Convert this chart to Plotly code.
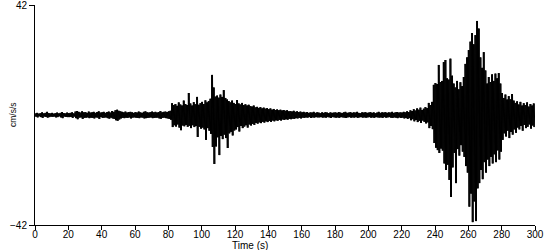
import plotly.graph_objects as go

# Envelope of the record: peak positive and negative
# acceleration (cm/s/s) in each one-second interval, t = 0 .. 299 s
seconds = list(range(300))

upper = [
    0.6,0.8,0.5,0.7,1.0,0.6,0.8,1.2,0.7,0.6,
    0.8,0.5,0.7,0.9,0.6,0.8,1.1,0.7,0.6,0.9,
    0.7,0.8,1.0,0.6,1.3,1.5,1.2,0.9,1.4,1.0,
    1.1,0.8,1.3,0.9,1.0,1.2,0.8,1.1,1.4,0.9,
    1.0,1.2,0.8,1.1,1.3,0.9,1.5,1.2,1.8,2.0,
    1.6,1.4,1.2,1.0,1.3,0.9,1.1,1.2,1.0,0.8,
    1.1,0.9,1.3,1.0,0.8,1.2,1.4,1.0,0.9,1.1,
    1.3,1.0,1.2,0.9,1.1,1.5,1.0,1.2,1.3,1.1,
    1.4,1.6,4.5,3.8,4.2,3.5,4.8,4.0,3.6,5.5,
    4.2,3.8,8.4,4.4,3.6,4.9,4.1,6.9,3.9,4.5,
    5.0,4.2,5.6,4.8,5.3,6.2,15.3,10.5,7.0,7.4,
    6.6,7.8,6.9,9.5,6.5,5.9,5.3,4.8,5.5,4.6,
    4.2,5.7,4.4,4.0,4.6,3.8,4.1,3.6,3.9,3.4,
    3.2,3.6,2.9,3.1,2.7,3.0,2.5,2.8,2.4,2.6,
    2.2,2.5,2.0,2.3,1.9,2.1,1.8,2.0,1.7,1.9,
    1.6,1.8,1.4,1.5,1.3,1.6,1.2,1.4,1.1,1.3,
    1.0,1.2,0.9,1.1,0.8,1.0,0.9,1.2,0.8,1.0,
    0.9,0.7,1.0,0.8,1.1,0.9,0.7,1.0,0.8,0.9,
    1.0,0.8,1.1,0.9,0.7,1.0,1.2,0.8,0.9,1.1,
    0.8,1.0,0.9,1.2,0.8,0.7,1.0,0.9,1.1,0.8,
    0.9,1.1,0.8,1.0,0.7,0.9,1.2,0.8,1.0,0.9,
    1.1,0.8,1.0,0.9,1.2,0.8,1.0,1.1,0.9,1.0,
    0.9,1.2,1.0,1.4,1.1,1.8,1.5,2.2,1.7,2.5,
    2.0,2.8,1.9,2.4,3.0,2.6,4.6,3.8,5.0,11.5,
    12.2,11.8,19.1,12.6,13.0,20.2,21.0,14.0,13.5,21.5,
    15.0,12.0,10.5,13.0,9.8,12.5,11.0,14.5,19.5,22.0,
    24.8,28.0,31.3,27.0,30.5,35.9,33.0,22.0,18.0,24.0,
    17.0,12.0,14.5,12.6,15.5,13.0,15.8,14.0,16.0,12.0,
    8.4,6.5,7.8,5.9,7.2,6.0,8.0,5.5,4.6,5.2,
    4.0,5.0,3.6,4.5,3.8,4.8,3.2,4.2,3.6,4.4,
]

lower = [
    -0.6,-0.9,-0.5,-0.8,-1.1,-0.6,-0.7,-1.0,-0.8,-0.6,
    -0.7,-0.6,-0.9,-0.8,-0.5,-0.9,-1.2,-0.6,-0.7,-0.8,
    -0.8,-0.7,-1.1,-0.6,-1.2,-1.6,-1.0,-0.9,-1.5,-1.1,
    -1.0,-0.9,-1.2,-1.0,-1.1,-1.3,-0.9,-1.0,-1.5,-0.8,
    -1.1,-1.0,-0.9,-1.2,-1.4,-1.0,-1.3,-1.5,-2.0,-2.2,
    -1.7,-1.3,-1.1,-1.2,-1.0,-1.1,-0.9,-1.3,-1.0,-0.9,
    -1.0,-1.1,-1.2,-0.9,-1.0,-1.3,-1.2,-1.1,-1.0,-0.9,
    -1.2,-1.1,-1.0,-1.0,-1.3,-1.4,-1.1,-1.0,-1.2,-1.3,
    -1.5,-1.8,-4.6,-3.9,-4.4,-3.6,-4.8,-5.8,-4.0,-4.3,
    -3.8,-4.5,-4.1,-5.0,-3.9,-4.6,-4.2,-8.4,-4.5,-5.2,
    -4.8,-5.5,-9.5,-5.0,-6.0,-7.2,-12.2,-18.7,-12.0,-8.5,
    -15.3,-8.0,-9.2,-7.5,-8.8,-12.6,-7.0,-6.4,-7.8,-5.9,
    -5.5,-4.6,-6.3,-4.2,-5.0,-4.4,-3.9,-4.8,-3.6,-4.0,
    -3.4,-3.8,-3.0,-3.3,-2.8,-3.1,-2.6,-2.9,-2.4,-2.7,
    -2.3,-2.6,-2.1,-2.4,-2.0,-2.2,-1.9,-2.1,-1.7,-1.9,
    -1.6,-1.8,-1.5,-1.6,-1.4,-1.5,-1.2,-1.3,-1.1,-1.3,
    -1.0,-1.1,-0.9,-1.0,-0.8,-1.1,-0.9,-1.0,-0.8,-0.9,
    -0.9,-0.8,-1.0,-0.9,-1.0,-0.8,-0.9,-1.1,-0.8,-0.9,
    -1.0,-0.9,-1.1,-0.8,-0.9,-1.0,-1.1,-0.9,-0.8,-1.0,
    -0.9,-1.0,-0.8,-1.1,-0.9,-0.8,-1.0,-0.9,-1.0,-0.9,
    -0.8,-1.0,-0.9,-1.1,-0.8,-0.9,-1.0,-0.9,-1.1,-0.8,
    -1.0,-0.9,-0.8,-1.0,-1.1,-0.9,-1.0,-1.2,-0.9,-1.1,
    -1.0,-1.3,-1.1,-1.5,-1.2,-2.0,-1.6,-2.4,-1.9,-2.7,
    -2.2,-3.0,-2.1,-2.6,-3.2,-2.8,-5.0,-4.2,-5.4,-10.7,
    -12.5,-13.4,-14.5,-12.8,-13.6,-18.5,-21.0,-19.0,-24.8,-31.3,
    -20.0,-14.5,-26.0,-13.0,-15.5,-11.5,-14.0,-16.0,-19.5,-22.0,
    -35.0,-30.0,-40.9,-33.0,-40.5,-28.0,-26.0,-21.0,-24.5,-18.0,
    -22.0,-17.0,-19.5,-16.0,-18.5,-15.0,-18.0,-13.5,-17.0,-14.0,
    -9.5,-7.0,-8.2,-6.0,-8.8,-6.5,-7.5,-5.5,-6.8,-4.8,
    -5.5,-4.2,-6.0,-3.8,-5.0,-4.5,-3.6,-5.2,-4.0,-4.6,
]

x_ticks = list(range(0, 301, 20))
y_ticks = [-42, 42]
x_title = "Time (s)"
y_title = "cm/s/s"

# the trace swings between the positive and negative peak of each second;
# several swings per second keep the dense record solid as in the picture
SWINGS = 4
xs, ys = [], []
for t, u, l in zip(seconds, upper, lower):
    for k in range(SWINGS):
        xs += [t + k / SWINGS, t + (k + 0.5) / SWINGS]
        ys += [u, l]

fig = go.Figure(go.Scatter(x=xs, y=ys, mode="lines",
                           line=dict(color="black", width=1),
                           hoverinfo="skip"))

font = dict(family="Liberation Sans, Arial, sans-serif", size=10, color="black")

fig.update_layout(
    width=550, height=250,
    margin=dict(l=35, r=15, t=5, b=25),
    paper_bgcolor="white", plot_bgcolor="white",
    showlegend=False, font=font,
    xaxis=dict(range=[0, 300], tickvals=x_ticks, ticks="outside", ticklen=4,
               tickcolor="black", showline=True, linecolor="black", linewidth=1,
               showgrid=False, zeroline=False, tickfont=font, automargin=False,
               ticklabeloverflow="allow", ticklabelstandoff=-4),
    yaxis=dict(range=[-42, 42], tickvals=y_ticks, ticks="outside", ticklen=5,
               tickcolor="black", showline=True, linecolor="black", linewidth=1,
               showgrid=False, zeroline=False, tickfont=font, automargin=False,
               ticklabeloverflow="allow"),
    annotations=[
        dict(text=x_title, xref="paper", yref="paper", x=0.43, y=0,
             yshift=-20, xanchor="center", yanchor="middle",
             showarrow=False, font=font),
        dict(text=y_title, xref="paper", yref="paper", x=0, y=0.5,
             xshift=-22, xanchor="center", yanchor="middle", textangle=-90,
             showarrow=False, font=dict(family=font["family"], size=8.5,
                                        color="black")),
    ],
)

fig.write_html("out.html")
